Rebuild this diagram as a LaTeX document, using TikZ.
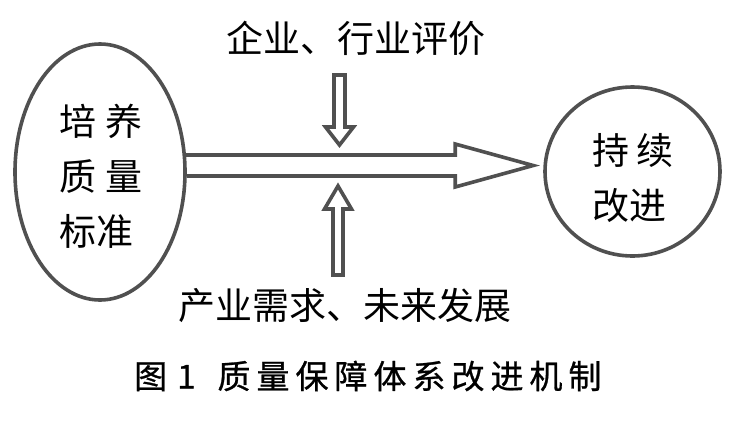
\documentclass[tikz,border=0pt]{standalone}
\usepackage{fontspec}
\setmainfont{Noto Sans CJK SC}
\newfontfamily\capfont{Noto Sans CJK SC}[FakeBold=0.8]
\usetikzlibrary{shapes.geometric,calc}
\definecolor{ln}{HTML}{505050}
\begin{document}
\begin{tikzpicture}[x=1pt,y=-1pt,
  outline/.style={draw=ln,line width=3.6pt,line join=miter},
  lbl/.style={font=\fontsize{37}{55}\selectfont,inner sep=0pt,text=black}]
\useasboundingbox[fill=white] (0,0) rectangle (734,421);
% end nodes
\node[ellipse,outline,minimum width=170pt,minimum height=256pt,inner sep=0pt] (L) at (100,172) {};
\node[ellipse,outline,minimum width=175pt,minimum height=169pt,inner sep=0pt] (R) at (632.5,171.5) {};
\node[lbl,align=left] (Lt) at ($(L.center)+(1,4)$) {培\hspace{10pt}养\\质\hspace{10pt}量\\标准};
\node[lbl,align=left] (Rt) at ($(R.center)+(0.5,6.5)$) {持\hspace{8pt}续\\改进};
% labels
\node[lbl] (T) at (356,38.5) {企业、行业评价};
\node[lbl] (B) at (345,305) {产业需求、未来发展};
\node[lbl,font=\capfont\fontsize{33}{40}\selectfont,anchor=west] (C) at (134,376)
  {图\hspace{10pt}1\hspace{22pt}质\kern6pt 量\kern6pt 保\kern6pt 障\kern6pt 体\kern6pt 系\kern6pt 改\kern6pt 进\kern6pt 机\kern6pt 制};
% main arrow
\coordinate (tip) at ($(R.west)+(-10,-6)$);
\draw[outline] ($(L.east)+(-0.8,-17)$) -- ($(tip)+(-78,-10.5)$) -- ($(tip)+(-78,-21.5)$)
  -- (tip) -- ($(tip)+(-78,21.5)$) -- ($(tip)+(-78,10.5)$) -- ($(L.east)+(-0.2,4)$);
% down arrow
\coordinate (dtip) at (339.5,145);
\draw[outline] ($(dtip)+(-5.5,-70)$) -- ($(dtip)+(5.5,-70)$) -- ($(dtip)+(5.5,-18)$)
  -- ($(dtip)+(14,-18)$) -- (dtip) -- ($(dtip)+(-14,-18)$) -- ($(dtip)+(-5.5,-18)$) -- cycle;
% up arrow
\coordinate (utip) at (338,186);
\draw[outline] ($(utip)+(-5,89)$) -- ($(utip)+(5,89)$) -- ($(utip)+(5,23)$)
  -- ($(utip)+(13.5,23)$) -- (utip) -- ($(utip)+(-13.5,23)$) -- ($(utip)+(-5,23)$) -- cycle;
\end{tikzpicture}
\end{document}
